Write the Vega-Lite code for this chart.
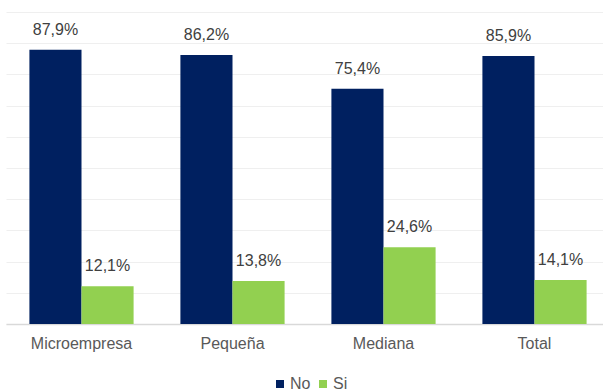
{
  "$schema": "https://vega.github.io/schema/vega-lite/v6.json",
  "autosize": "none",
  "width": 604,
  "height": 312,
  "padding": {"left": 6, "top": 12, "right": 0, "bottom": 68},
  "background": "white",
  "data": {
    "values": [
      {"cat": "Microempresa", "grp": "No", "val": 87.9, "label": "87,9%"},
      {"cat": "Microempresa", "grp": "Si", "val": 12.1, "label": "12,1%"},
      {"cat": "Pequeña", "grp": "No", "val": 86.2, "label": "86,2%"},
      {"cat": "Pequeña", "grp": "Si", "val": 13.8, "label": "13,8%"},
      {"cat": "Mediana", "grp": "No", "val": 75.4, "label": "75,4%"},
      {"cat": "Mediana", "grp": "Si", "val": 24.6, "label": "24,6%"},
      {"cat": "Total", "grp": "No", "val": 85.9, "label": "85,9%"},
      {"cat": "Total", "grp": "Si", "val": 14.1, "label": "14,1%"}
    ]
  },
  "encoding": {
    "x": {
      "field": "cat", "type": "nominal", "sort": null,
      "scale": {"paddingInner": 0.31, "paddingOuter": 0.155},
      "axis": {"title": null, "labelAngle": 0, "ticks": false, "labelPadding": 11, "labelFontSize": 16, "labelColor": "#595959", "domainColor": "#D9D9D9", "domainWidth": 1.5, "grid": false}
    },
    "xOffset": {"field": "grp", "type": "nominal", "sort": ["No", "Si"], "scale": {"paddingInner": 0, "paddingOuter": 0}},
    "y": {
      "field": "val", "type": "quantitative",
      "scale": {"domain": [0, 100], "nice": false},
      "axis": {"title": null, "labels": false, "ticks": false, "domain": false, "values": [0,10,20,30,40,50,60,70,80,90,100], "gridColor": "#EFEFEF", "gridWidth": 1}
    }
  },
  "layer": [
    {
      "mark": {"type": "bar"},
      "encoding": {
        "color": {
          "field": "grp", "type": "nominal",
          "scale": {"domain": ["No", "Si"], "range": ["#002060", "#92D050"]},
          "legend": {"title": null, "orient": "none", "legendX": 266, "legendY": 364, "direction": "horizontal", "symbolType": "square", "symbolSize": 64, "symbolStrokeWidth": 0, "labelFontSize": 16, "labelColor": "#595959", "labelOffset": 2, "columnPadding": 4}
        }
      }
    },
    {
      "mark": {"type": "text", "baseline": "alphabetic", "dy": -15, "fontSize": 16, "color": "#404040"},
      "encoding": {"text": {"field": "label"}}
    }
  ],
  "config": {
    "font": "Liberation Sans",
    "view": {"stroke": null}
  }
}
